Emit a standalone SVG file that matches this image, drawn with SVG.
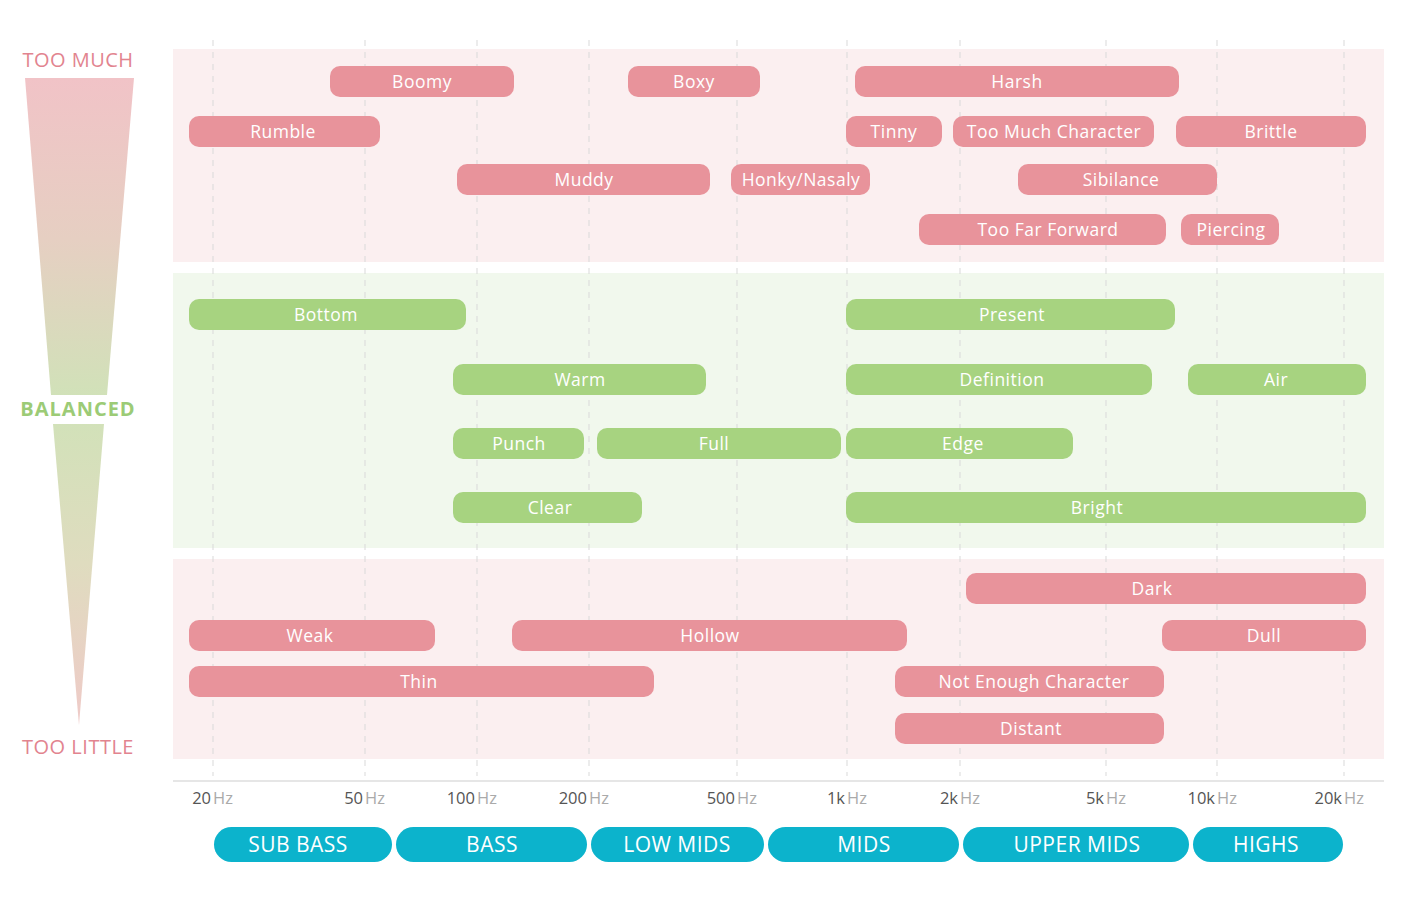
<svg xmlns="http://www.w3.org/2000/svg" width="1412" height="906" viewBox="0 0 1412 906">
<defs>
<linearGradient id="tri" gradientUnits="userSpaceOnUse" x1="0" y1="78" x2="0" y2="725">
<stop offset="0" stop-color="#f1c3c7"/>
<stop offset="0.25" stop-color="#e6cfc2"/>
<stop offset="0.5" stop-color="#d0e2b8"/>
<stop offset="0.75" stop-color="#dfdcbf"/>
<stop offset="1" stop-color="#efcac8"/>
</linearGradient>
<style>
text{font-family:"Open Sans","Liberation Sans",sans-serif;}
.bad rect{fill:#e8939b;}
.good rect{fill:#a7d380;}
.pill text{fill:#ffffff;font-size:17.5px;letter-spacing:0.5px;text-anchor:middle;}
.grid{stroke:#d9d9d9;stroke-width:1;stroke-dasharray:6 6;}
.num{fill:#555555;font-size:16.5px;text-anchor:end;}
.hz{fill:#aaaaaa;font-size:16.5px;}
.band rect{fill:#0cb3cc;}
.band text{fill:#ffffff;font-size:21px;letter-spacing:0.5px;text-anchor:middle;}
.side{font-size:20px;letter-spacing:0.5px;text-anchor:middle;fill:#e2848f;}
</style>
</defs>
<rect width="1412" height="906" fill="#ffffff"/>
<!-- bands -->
<rect x="173" y="49" width="1211" height="213" fill="#fbeff0"/>
<rect x="173" y="273" width="1211" height="275" fill="#f1f8ed"/>
<rect x="173" y="559" width="1211" height="200" fill="#fbeff0"/>
<line x1="173" y1="781" x2="1384" y2="781" stroke="#e6e6e6" stroke-width="2"/>
<!-- grid lines -->
<g id="grid">
<line class="grid" x1="213" y1="40" x2="213" y2="776"/>
<line class="grid" x1="365" y1="40" x2="365" y2="776"/>
<line class="grid" x1="477" y1="40" x2="477" y2="776"/>
<line class="grid" x1="589" y1="40" x2="589" y2="776"/>
<line class="grid" x1="737" y1="40" x2="737" y2="776"/>
<line class="grid" x1="847" y1="40" x2="847" y2="776"/>
<line class="grid" x1="960" y1="40" x2="960" y2="776"/>
<line class="grid" x1="1106" y1="40" x2="1106" y2="776"/>
<line class="grid" x1="1217" y1="40" x2="1217" y2="776"/>
<line class="grid" x1="1344" y1="40" x2="1344" y2="776"/>
</g>
<!-- side scale -->
<g id="scale">
<text class="side" x="78" y="67">TOO MUCH</text>
<polygon points="25,78 134,78 107,395 51,395" fill="url(#tri)"/>
<text x="78" y="416" font-size="20" font-weight="bold" letter-spacing="1" fill="#9ccb76" text-anchor="middle">BALANCED</text>
<polygon points="53,424 104,424 79,725" fill="url(#tri)"/>
<text class="side" x="78" y="754">TOO LITTLE</text>
</g>
<g id="connectors"></g>
<!-- too much -->
<g class="pill bad">
<g id="boomy"><rect x="330" y="66" width="184" height="31" rx="10"/><text x="422" y="87.5">Boomy</text></g>
<g id="boxy"><rect x="628" y="66" width="132" height="31" rx="10"/><text x="694" y="87.5">Boxy</text></g>
<g id="harsh"><rect x="855" y="66" width="324" height="31" rx="10"/><text x="1017" y="87.5">Harsh</text></g>
<g id="rumble"><rect x="189" y="116" width="191" height="31" rx="10"/><text x="283" y="137.5">Rumble</text></g>
<g id="tinny"><rect x="846" y="116" width="96" height="31" rx="10"/><text x="894" y="137.5">Tinny</text></g>
<g id="too-much-character"><rect x="953" y="116" width="201" height="31" rx="10"/><text x="1054" y="137.5">Too Much Character</text></g>
<g id="brittle"><rect x="1176" y="116" width="190" height="31" rx="10"/><text x="1271" y="137.5">Brittle</text></g>
<g id="muddy"><rect x="457" y="164" width="253" height="31" rx="10"/><text x="584" y="185.5">Muddy</text></g>
<g id="honky"><rect x="731" y="164" width="139" height="31" rx="10"/><text x="801" y="185.5">Honky/Nasaly</text></g>
<g id="sibilance"><rect x="1018" y="164" width="199" height="31" rx="10"/><text x="1121" y="185.5">Sibilance</text></g>
<g id="too-far-forward"><rect x="919" y="214" width="247" height="31" rx="10"/><text x="1048" y="235.5">Too Far Forward</text></g>
<g id="piercing"><rect x="1181" y="214" width="98" height="31" rx="10"/><text x="1231" y="235.5">Piercing</text></g>
</g>
<!-- balanced -->
<g class="pill good">
<g id="bottom"><rect x="189" y="299" width="277" height="31" rx="10"/><text x="326" y="320.5">Bottom</text></g>
<g id="present"><rect x="846" y="299" width="329" height="31" rx="10"/><text x="1012" y="320.5">Present</text></g>
<g id="warm"><rect x="453" y="364" width="253" height="31" rx="10"/><text x="580" y="385.5">Warm</text></g>
<g id="definition"><rect x="846" y="364" width="306" height="31" rx="10"/><text x="1002" y="385.5">Definition</text></g>
<g id="air"><rect x="1188" y="364" width="178" height="31" rx="10"/><text x="1276" y="385.5">Air</text></g>
<g id="punch"><rect x="453" y="428" width="131" height="31" rx="10"/><text x="519" y="449.5">Punch</text></g>
<g id="full"><rect x="597" y="428" width="244" height="31" rx="10"/><text x="714" y="449.5">Full</text></g>
<g id="edge"><rect x="846" y="428" width="227" height="31" rx="10"/><text x="963" y="449.5">Edge</text></g>
<g id="clear"><rect x="453" y="492" width="189" height="31" rx="10"/><text x="550" y="513.5">Clear</text></g>
<g id="bright"><rect x="846" y="492" width="520" height="31" rx="10"/><text x="1097" y="513.5">Bright</text></g>
</g>
<!-- too little -->
<g class="pill bad">
<g id="dark"><rect x="966" y="573" width="400" height="31" rx="10"/><text x="1152" y="594.5">Dark</text></g>
<g id="weak"><rect x="189" y="620" width="246" height="31" rx="10"/><text x="310" y="641.5">Weak</text></g>
<g id="hollow"><rect x="512" y="620" width="395" height="31" rx="10"/><text x="710" y="641.5">Hollow</text></g>
<g id="dull"><rect x="1162" y="620" width="204" height="31" rx="10"/><text x="1264" y="641.5">Dull</text></g>
<g id="thin"><rect x="189" y="666" width="465" height="31" rx="10"/><text x="419" y="687.5">Thin</text></g>
<g id="not-enough-character"><rect x="895" y="666" width="269" height="31" rx="10"/><text x="1034" y="687.5">Not Enough Character</text></g>
<g id="distant"><rect x="895" y="713" width="269" height="31" rx="10"/><text x="1031" y="734.5">Distant</text></g>
</g>
<!-- axis labels -->
<g id="axis">
<text class="num" x="211" y="804">20</text><text class="hz" x="213" y="804">Hz</text>
<text class="num" x="363" y="804">50</text><text class="hz" x="365" y="804">Hz</text>
<text class="num" x="475" y="804">100</text><text class="hz" x="477" y="804">Hz</text>
<text class="num" x="587" y="804">200</text><text class="hz" x="589" y="804">Hz</text>
<text class="num" x="735" y="804">500</text><text class="hz" x="737" y="804">Hz</text>
<text class="num" x="845" y="804">1k</text><text class="hz" x="847" y="804">Hz</text>
<text class="num" x="958" y="804">2k</text><text class="hz" x="960" y="804">Hz</text>
<text class="num" x="1104" y="804">5k</text><text class="hz" x="1106" y="804">Hz</text>
<text class="num" x="1215" y="804">10k</text><text class="hz" x="1217" y="804">Hz</text>
<text class="num" x="1342" y="804">20k</text><text class="hz" x="1344" y="804">Hz</text>
</g>
<!-- frequency bands -->
<g class="band">
<g id="sub-bass"><rect x="214" y="827" width="178" height="35" rx="17.5"/><text x="298" y="852">SUB BASS</text></g>
<g id="bass"><rect x="396" y="827" width="191" height="35" rx="17.5"/><text x="492" y="852">BASS</text></g>
<g id="low-mids"><rect x="591" y="827" width="173" height="35" rx="17.5"/><text x="677" y="852">LOW MIDS</text></g>
<g id="mids"><rect x="768" y="827" width="191" height="35" rx="17.5"/><text x="864" y="852">MIDS</text></g>
<g id="upper-mids"><rect x="963" y="827" width="226" height="35" rx="17.5"/><text x="1077" y="852">UPPER MIDS</text></g>
<g id="highs"><rect x="1193" y="827" width="150" height="35" rx="17.5"/><text x="1266" y="852">HIGHS</text></g>
</g>
</svg>
